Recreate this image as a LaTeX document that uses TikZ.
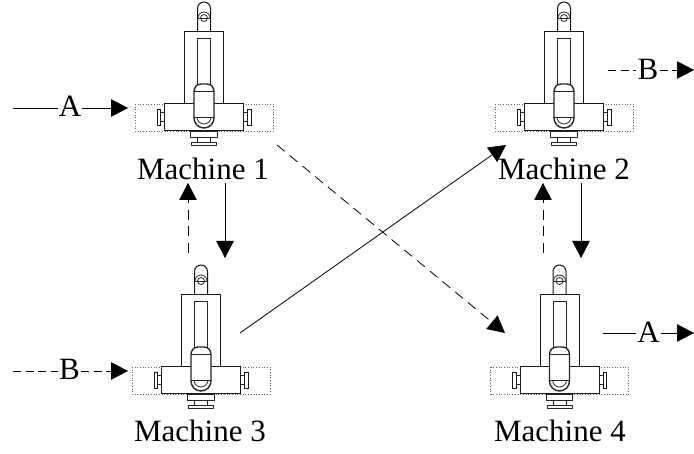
\documentclass[tikz,border=0pt]{standalone}
\usepackage{fontspec}
\setmainfont{Liberation Serif}
\usetikzlibrary{arrows.meta}
\tikzset{
  x=1pt,y=-1pt,
  mline/.style={line width=1pt,black!90},
  thin line/.style={line width=0.8pt,black!85},
  arr/.style={line width=0.8pt,-{Triangle[length=17pt,width=17.5pt]}},
  seg/.style={line width=0.8pt},
  dash long/.style={dash pattern=on 10pt off 6.5pt},
  dash short/.style={dash pattern=on 8pt off 4.5pt},
  lab/.style={font=\fontsize{31}{31}\selectfont,anchor=base,inner sep=0pt},
  flow/.style={font=\fontsize{31}{31}\selectfont,anchor=base,inner xsep=1pt,inner ysep=0pt},
  machine/.pic={
    % dotted outline
    \draw[black!60,line width=0.7pt,dotted] (-69,104) rectangle (69,131);
    % upper slide
    \draw[mline] (-6.5,32) -- (-6.5,8.5) arc[start angle=180,end angle=360,radius=6.5] -- (6.5,32);
    \draw[thin line] (0,18) circle[radius=3.5];
    \draw[thin line] (-6,18) arc[start angle=180,end angle=360,radius=6];
    \draw[thin line] (-6.5,18) -- (6.5,18);
    \draw[mline] (-19.5,32) rectangle (19.5,104);
    \draw[thin line] (-6.5,38.5) rectangle (6.5,85);
    % side knobs
    \draw[thin line] (-43.5,112.7) rectangle (-39.5,121.7);
    \draw[thin line] (43.5,112.7) rectangle (39.5,121.7);
    \draw[mline] (-47,110) rectangle (-43.5,125.5);
    \draw[mline] (47,110) rectangle (43.5,125.5);
    % base
    \draw[mline,fill=white] (-39.5,104) rectangle (39.5,131);
    % foot
    \draw[thin line] (-13.5,131) rectangle (13,137);
    \draw[thin line] (-6.5,137) -- (-6.5,142) (6.5,137) -- (6.5,142);
    \draw[thin line] (-12.5,142) rectangle (12.5,145);
    % carriage
    \draw[line width=1.4pt,black!85,fill=white] (-10,118) -- (-10,92) .. controls (-10,87) and (-7,84) .. (-3,84) -- (3,84) .. controls (7,84) and (10,87) .. (10,92) -- (10,118) arc[start angle=0,end angle=180,radius=10] -- cycle;
    \draw[thin line] (-10,91) -- (10,91);
    \draw[thin line] (-10,117) -- (10,117);
    \draw[thin line] (-7,117) arc[start angle=180,end angle=0,radius=7];
  }
}
\begin{document}
\begin{tikzpicture}
\useasboundingbox (0,0) rectangle (694,454);
\pic (m1) at (204,0) {machine};
\pic (m2) at (564,0) {machine};
\pic (m3) at (201,263) {machine};
\pic (m4) at (559.5,263) {machine};
\node[lab] (l1) at (203,180) {Machine 1};
\node[lab] (l2) at (564,180) {Machine 2};
\node[lab] (l3) at (200,442) {Machine 3};
\node[lab] (l4) at (560,442) {Machine 4};
\node[flow] (fa1) at (70,117) {A};
\node[flow] (fb1) at (69.5,380) {B};
\node[flow] (fb2) at (648,80) {B};
\node[flow] (fa2) at (648.5,343) {A};
\coordinate (a1s) at (13,108);
\coordinate (a1e) at (128,108);
\coordinate (b1s) at (13,371);
\coordinate (b1e) at (128,371);
\coordinate (b2s) at (608,70);
\coordinate (b2e) at (694,70);
\coordinate (a2s) at (603,333);
\coordinate (a2e) at (694,333);
\coordinate (d12s) at (225,183);
\coordinate (d12e) at (225,258);
\coordinate (u12s) at (188,253);
\coordinate (u12e) at (188,183);
\coordinate (d24s) at (581,183);
\coordinate (d24e) at (581,258);
\coordinate (u24s) at (543,253);
\coordinate (u24e) at (543,183);
\coordinate (x32s) at (240,333);
\coordinate (x32e) at (506,145);
\coordinate (x14s) at (277,145);
\coordinate (x14e) at (505,333);
\draw[seg] (a1s) -- (fa1.west |- a1s);
\draw[arr] (fa1.east |- a1s) -- (a1e);
\draw[seg,dash short] (b1s) -- (fb1.west |- b1s);
\draw[arr,dash short] (fb1.east |- b1s) -- (b1e);
\draw[seg,dash short] (b2s) -- (fb2.west |- b2s);
\draw[arr,dash short] (fb2.east |- b2s) -- (b2e);
\draw[seg] (a2s) -- (fa2.west |- a2s);
\draw[arr] (fa2.east |- a2s) -- (a2e);
\draw[arr] (d12s) -- (d12e);
\draw[arr,dash long] (u12s) -- (u12e);
\draw[arr] (d24s) -- (d24e);
\draw[arr,dash long] (u24s) -- (u24e);
\draw[arr] (x32s) -- (x32e);
\draw[arr,dash long] (x14s) -- (x14e);
\end{tikzpicture}
\end{document}
